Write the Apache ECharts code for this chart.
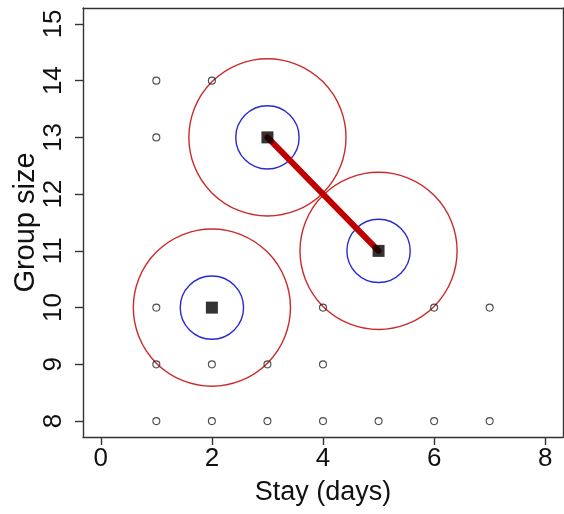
<!DOCTYPE html>
<html>
<head>
<meta charset="utf-8">
<script src="https://cdn.jsdelivr.net/npm/echarts@6/dist/echarts.min.js"></script>
<style>
html,body{margin:0;padding:0;background:#fff;}
#chart{width:564px;height:514px;}
</style>
</head>
<body>
<div id="chart"></div>
<script>
// Open-circle observations [stay, groupSize]
var openPoints = [
  [1,14],[2,14],[1,13],
  [1,10],[4,10],[6,10],[7,10],
  [1,9],[2,9],[3,9],[4,9],
  [1,8],[2,8],[3,8],[4,8],[5,8],[6,8],[7,8]
];
// Cluster centres (filled squares)
var centers = [[2,10],[3,13],[5,11]];
// Connecting segment
var linkSegment = [[3,13],[5,11]];
// Circle radii (data units)
var outerRadius = Math.SQRT2;
var innerRadius = 0.57;
var xTicks = [0,2,4,6,8];
var yTicks = [8,9,10,11,12,13,14,15];
var xRange = [-0.32, 8.32];
var yRange = [7.72, 15.28];

var FONT = 'Liberation Sans, Arial, Helvetica, sans-serif';
var AXIS_COLOR = '#333';
var TICK_LEN = 8;
var chart = echarts.init(document.getElementById('chart'), null, {renderer:'canvas'});

function ringSeries(radius, color, width){
  return {
    type:'custom',
    coordinateSystem:'cartesian2d',
    data: centers,
    silent:true,
    z:2,
    renderItem:function(params, api){
      var c = api.coord([api.value(0), api.value(1)]);
      var r = api.size([radius, radius])[0];
      return {
        type:'circle',
        shape:{cx:c[0], cy:c[1], r:r},
        style:{fill:'none', stroke:color, lineWidth:width}
      };
    }
  };
}

var lineStyleAx = {color:AXIS_COLOR, width:1.4};

chart.setOption({
  animation:false,
  backgroundColor:'#fff',
  grid:{left:83, right:1, top:8, bottom:77, show:false, outerBoundsMode:'none', containLabel:false},
  xAxis:[{
    type:'value', min:xRange[0], max:xRange[1], position:'bottom',
    axisLine:{show:true, onZero:false, lineStyle:lineStyleAx},
    splitLine:{show:false},
    axisTick:{show:true, length:TICK_LEN, customValues:xTicks, lineStyle:lineStyleAx},
    axisLabel:{show:true, customValues:xTicks, fontFamily:FONT, fontSize:26, color:'#111', margin:9}
  },{
    type:'value', min:xRange[0], max:xRange[1], position:'top',
    axisLine:{show:true, onZero:false, lineStyle:lineStyleAx},
    splitLine:{show:false}, axisTick:{show:false}, axisLabel:{show:false}
  }],
  yAxis:[{
    type:'value', min:yRange[0], max:yRange[1], position:'left',
    axisLine:{show:true, onZero:false, lineStyle:lineStyleAx},
    splitLine:{show:false},
    axisTick:{show:true, length:TICK_LEN, customValues:yTicks, lineStyle:lineStyleAx},
    axisLabel:{show:true, customValues:yTicks, rotate:90, fontFamily:FONT, fontSize:26, color:'#111', margin:16}
  },{
    type:'value', min:yRange[0], max:yRange[1], position:'right',
    axisLine:{show:true, onZero:false, lineStyle:lineStyleAx},
    splitLine:{show:false}, axisTick:{show:false}, axisLabel:{show:false}
  }],
  series:[
    ringSeries(outerRadius, '#cc2a2a', 1.4),
    ringSeries(innerRadius, '#2a2ad0', 1.4),
    {
      type:'line', data:linkSegment, symbol:'none', z:3,
      lineStyle:{color:'#c00000', width:6, cap:'round'}, silent:true
    },
    {
      type:'scatter', data:centers, symbol:'rect', symbolSize:12, z:4,
      itemStyle:{color:'#000'}, silent:true
    },
    {
      type:'scatter', data:openPoints, symbol:'circle', symbolSize:7, z:5,
      itemStyle:{color:'rgba(0,0,0,0)', borderColor:'#222', borderWidth:1.1}, silent:true
    }
  ]
});

// Axis titles placed relative to the plot box via the chart's own scales
var xLeft = chart.convertToPixel({xAxisIndex:0}, xRange[0]);
var xRight = chart.convertToPixel({xAxisIndex:0}, xRange[1]);
var yBottom = chart.convertToPixel({yAxisIndex:0}, yRange[0]);
var yTop = chart.convertToPixel({yAxisIndex:0}, yRange[1]);
var els = [];
els.push({type:'text', silent:true, z:10,
  x:(xLeft + xRight) / 2, y:yBottom + 56,
  style:{text:'Stay (days)', font:'27px ' + FONT, fill:'#111', textAlign:'center', textVerticalAlign:'middle'}});
els.push({type:'text', silent:true, z:10,
  x:xLeft - 57, y:(yTop + yBottom) / 2, rotation:Math.PI / 2,
  style:{text:'Group size', font:'29px ' + FONT, fill:'#111', textAlign:'center', textVerticalAlign:'middle'}});
chart.setOption({graphic:{elements:els}});
</script>
</body>
</html>
